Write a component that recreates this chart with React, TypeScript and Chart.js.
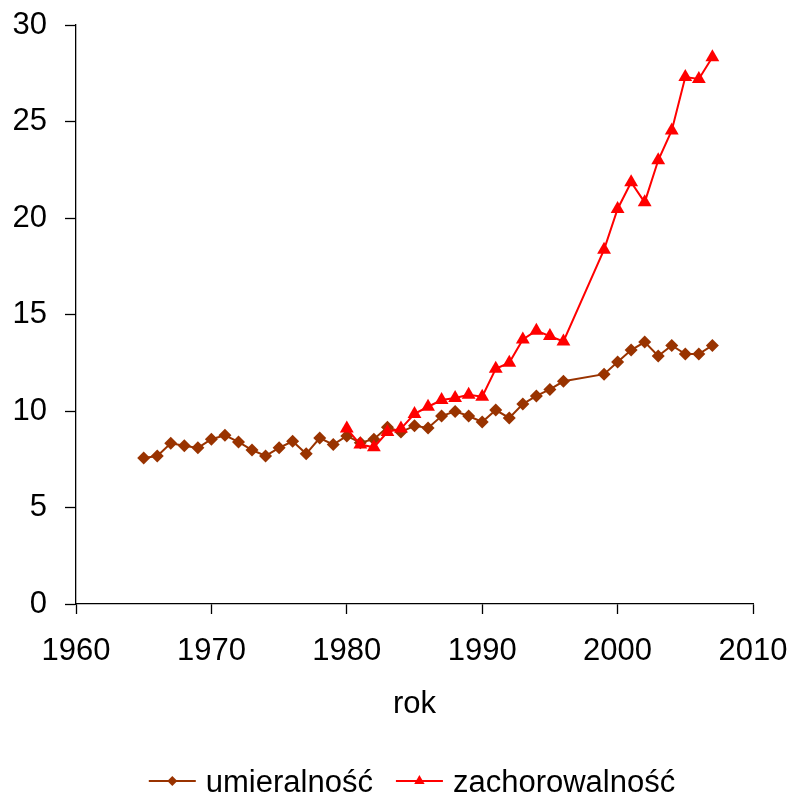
import React, { useEffect, useRef } from "react";
import { Chart, registerables } from "chart.js";

Chart.register(...registerables);

const mortYears = [1965, 1966, 1967, 1968, 1969, 1970, 1971, 1972, 1973, 1974, 1975, 1976, 1977, 1978, 1979, 1980, 1981, 1982, 1983, 1984, 1985, 1986, 1987, 1988, 1989, 1990, 1991, 1992, 1993, 1994, 1995, 1996, 1999, 2000, 2001, 2002, 2003, 2004, 2005, 2006, 2007];
const mortValues = [7.57, 7.67, 8.33, 8.2, 8.09, 8.54, 8.74, 8.4, 7.98, 7.67, 8.09, 8.43, 7.78, 8.6, 8.26, 8.71, 8.36, 8.54, 9.16, 8.91, 9.23, 9.12, 9.74, 9.98, 9.74, 9.43, 10.05, 9.64, 10.36, 10.78, 11.12, 11.54, 11.91, 12.54, 13.16, 13.57, 12.85, 13.4, 12.95, 12.95, 13.4];

const incYears = [1980, 1981, 1982, 1983, 1984, 1985, 1986, 1987, 1988, 1989, 1990, 1991, 1992, 1993, 1994, 1995, 1996, 1999, 2000, 2001, 2002, 2003, 2004, 2005, 2006, 2007];
const incValues = [9.09, 8.26, 8.12, 8.91, 9.09, 9.85, 10.22, 10.57, 10.67, 10.84, 10.74, 12.19, 12.5, 13.71, 14.16, 13.88, 13.6, 18.36, 20.47, 21.85, 20.81, 22.99, 24.54, 27.3, 27.2, 28.33];

const seriesNames = ["umieralność", "zachorowalność"];
const xTitle = "rok";

const BROWN = "#993300";
const RED = "#FF0000";
const FONT = "'Liberation Sans', Arial, sans-serif";
const FS = 31;

const legendPlugin = {
  id: "customLegend",
  afterDraw(chart: any) {
    const ctx = chart.ctx;
    const items = [
      { text: seriesNames[0], color: BROWN, style: "rectRot", r: 5 },
      { text: seriesNames[1], color: RED, style: "triangle", r: 6 },
    ];
    ctx.save();
    ctx.font = `${FS}px ${FONT}`;
    const lineW = 47;
    const gap = 10;
    const itemGap = 23;
    const widths = items.map((it) => ctx.measureText(it.text).width);
    const total = items.reduce((s, it, i) => s + lineW + gap + widths[i], 0) + itemGap * (items.length - 1);
    const center = 412;
    let x = center - total / 2;
    const yLine = 781;
    const yText = 792;
    items.forEach((it, i) => {
      ctx.strokeStyle = it.color;
      ctx.lineWidth = 2;
      ctx.beginPath();
      ctx.moveTo(x, yLine);
      ctx.lineTo(x + lineW, yLine);
      ctx.stroke();
      ctx.fillStyle = it.color;
      ctx.beginPath();
      const cx = x + lineW / 2;
      if (it.style === "rectRot") {
        ctx.moveTo(cx - it.r, yLine);
        ctx.lineTo(cx, yLine - it.r);
        ctx.lineTo(cx + it.r, yLine);
        ctx.lineTo(cx, yLine + it.r);
      } else {
        ctx.moveTo(cx, yLine - it.r);
        ctx.lineTo(cx + it.r * 0.866, yLine + it.r * 0.5);
        ctx.lineTo(cx - it.r * 0.866, yLine + it.r * 0.5);
      }
      ctx.closePath();
      ctx.fill();
      ctx.fillStyle = "#000";
      ctx.textBaseline = "alphabetic";
      ctx.textAlign = "left";
      ctx.fillText(it.text, x + lineW + gap, yText);
      x += lineW + gap + widths[i] + itemGap;
    });
    ctx.restore();
  },
};

const zeroPad = (s: any) => {
  s.paddingTop = 0;
  s.paddingBottom = 0;
  s.paddingLeft = 0;
  s.paddingRight = 0;
};

export default function App() {
  const ref = useRef<HTMLCanvasElement | null>(null);
  useEffect(() => {
    if (!ref.current) return;
    const chart = new Chart(ref.current, {
      type: "line",
      data: {
        datasets: [
          {
            label: seriesNames[0],
            data: mortYears.map((y, i) => ({ x: y, y: mortValues[i] })),
            borderColor: BROWN,
            backgroundColor: BROWN,
            borderWidth: 2,
            pointStyle: "rectRot",
            pointRadius: 6.5,
            pointBorderWidth: 0,
            pointBackgroundColor: BROWN,
            tension: 0,
            order: 1,
          },
          {
            label: seriesNames[1],
            data: incYears.map((y, i) => ({ x: y, y: incValues[i] })),
            borderColor: RED,
            backgroundColor: RED,
            borderWidth: 2,
            pointStyle: "triangle",
            pointRadius: 8,
            pointBorderWidth: 0,
            pointBackgroundColor: RED,
            tension: 0,
            order: 0,
          },
        ],
      },
      options: {
        animation: false,
        responsive: true,
        maintainAspectRatio: false,
        layout: { padding: { left: 0, top: 25, right: 39, bottom: 71 } },
        plugins: {
          legend: { display: false },
          tooltip: { enabled: false },
        },
        scales: {
          x: {
            type: "linear",
            min: 1960,
            max: 2010,
            afterFit: (s: any) => {
              s.height = 120;
              zeroPad(s);
            },
            border: { display: true, color: "#000", width: 1.3 },
            grid: { display: true, drawOnChartArea: false, drawTicks: true, tickLength: 10, tickColor: "#000", tickWidth: 1.3 },
            ticks: {
              stepSize: 10,
              autoSkip: false,
              maxRotation: 0,
              padding: 19,
              color: "#000",
              font: { family: FONT, size: FS },
              callback: (v: any) => String(v),
            },
            title: {
              display: true,
              text: xTitle,
              color: "#000",
              font: { family: FONT, size: FS },
              padding: { top: 0, bottom: 1 },
            },
          },
          y: {
            type: "linear",
            min: 0,
            max: 30,
            afterFit: (s: any) => {
              s.width = 76;
              zeroPad(s);
            },
            border: { display: true, color: "#000", width: 1.3 },
            grid: { display: true, drawOnChartArea: false, drawTicks: true, tickLength: 11, tickColor: "#000", tickWidth: 1.3 },
            ticks: {
              stepSize: 5,
              padding: 18,
              color: "#000",
              font: { family: FONT, size: FS },
            },
          },
        },
      },
      plugins: [legendPlugin],
    } as any);
    return () => chart.destroy();
  }, []);
  return (
    <div style={{ width: 792, height: 795, position: "relative" }}>
      <style>{`body{margin:0;}`}</style>
      <canvas ref={ref} />
    </div>
  );
}
